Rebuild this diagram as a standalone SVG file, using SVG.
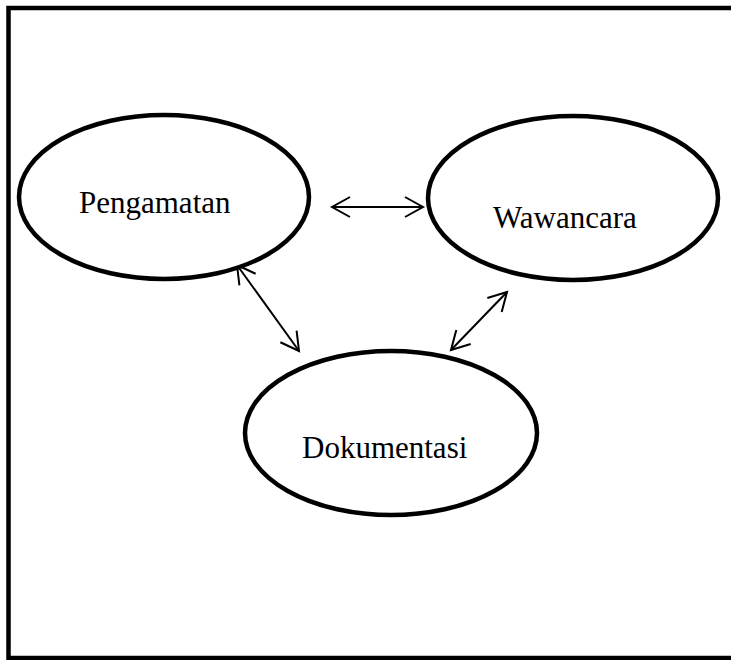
<svg xmlns="http://www.w3.org/2000/svg" width="731" height="660" viewBox="0 0 731 660">
<style>
.node{fill:#fff;stroke:#000;stroke-width:4.5}
.lbl{font-family:"Liberation Serif","Times New Roman",serif;font-size:31px;fill:#000}
.conn{stroke:#000;stroke-width:2;fill:none;marker-start:url(#ah);marker-end:url(#ah)}
</style>
<defs>
<marker id="ah" markerUnits="userSpaceOnUse" viewBox="-20 -12 24 24" refX="0" refY="0" markerWidth="24" markerHeight="24" orient="auto-start-reverse">
<path d="M-18,-10 L0,0 L-18,10" fill="none" stroke="#000" stroke-width="2"/>
</marker>
</defs>
<rect id="frame" x="8.5" y="8" width="730" height="650" fill="#fff" stroke="#000" stroke-width="4.5"/>
<g id="connectors">
<line class="conn" x1="332" y1="207" x2="423" y2="207"/>
<line class="conn" x1="237" y1="265" x2="299" y2="351"/>
<line class="conn" x1="507" y1="292" x2="451" y2="350"/>
</g>
<g id="pengamatan">
<ellipse class="node" cx="164" cy="197" rx="145" ry="82"/>
<text class="lbl" x="79" y="213">Pengamatan</text>
</g>
<g id="wawancara">
<ellipse class="node" cx="573" cy="198" rx="145" ry="82"/>
<text class="lbl" x="493" y="228">Wawancara</text>
</g>
<g id="dokumentasi">
<ellipse class="node" cx="391" cy="433" rx="146" ry="82"/>
<text class="lbl" x="302" y="458">Dokumentasi</text>
</g>
</svg>
